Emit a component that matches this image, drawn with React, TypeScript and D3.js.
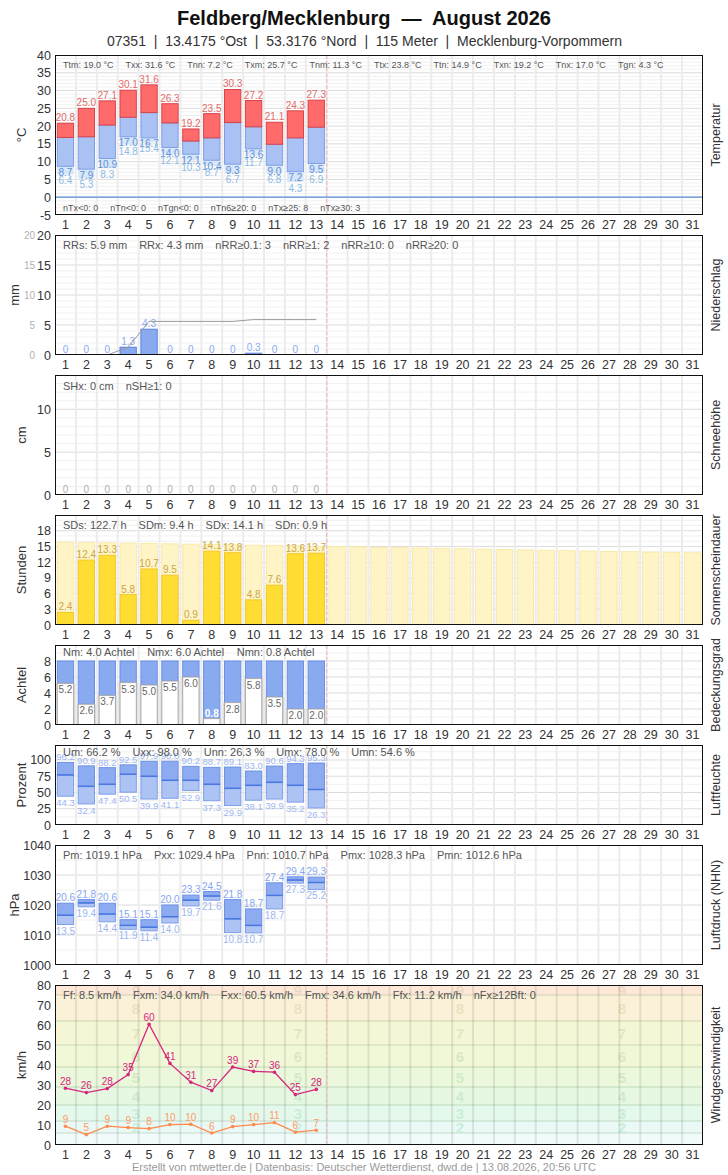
import React from 'react';
import * as d3 from 'd3';

// ---------- DATA ----------
const days = d3.range(1, 32);
const obsDays = d3.range(1, 14);

const title = 'Feldberg/Mecklenburg  —  August 2026';
const subtitle = '07351  |  13.4175 °Ost  |  53.3176 °Nord  |  115 Meter  |  Mecklenburg-Vorpommern';
const footer = 'Erstellt von mtwetter.de | Datenbasis: Deutscher Wetterdienst, dwd.de | 13.08.2026, 20:56 UTC';

const tMax = [20.8, 25.0, 27.1, 30.1, 31.6, 26.3, 19.2, 23.5, 30.3, 27.2, 21.1, 24.3, 27.3];
const tMean = [16.8, 17.0, 20.3, 22.5, 23.8, 20.9, 15.8, 16.7, 21.0, 19.8, 14.9, 16.7, 19.7];
const tMin = [8.7, 7.9, 10.9, 17.0, 16.7, 14.0, 12.1, 10.4, 9.3, 13.6, 9.0, 7.2, 9.5];
const tGround = [6.4, 5.3, 8.3, 14.8, 15.4, 12.1, 10.3, 8.7, 6.7, 11.7, 6.8, 4.3, 6.9];

const precip = [0, 0, 0, 1.3, 4.3, 0, 0, 0, 0, 0.3, 0, 0, 0];
const snow = [0, 0, 0, 0, 0, 0, 0, 0, 0, 0, 0, 0, 0];

const sunshine = [2.4, 12.4, 13.3, 5.8, 10.7, 9.5, 0.9, 14.1, 13.8, 4.8, 7.6, 13.6, 13.7];
const dayLength = [15.8, 15.75, 15.7, 15.62, 15.56, 15.5, 15.42, 15.36, 15.3, 15.22, 15.16, 15.1, 15.02, 14.96, 14.9,
  14.82, 14.76, 14.7, 14.62, 14.56, 14.46, 14.4, 14.34, 14.26, 14.2, 14.12, 14.05, 14.0, 13.92, 13.86, 13.78];

const cloud = [5.2, 2.6, 3.7, 5.3, 5.0, 5.5, 6.0, 0.8, 2.8, 5.8, 3.5, 2.0, 2.0];

const humMax = [96.2, 90.9, 88.2, 92.5, 97.9, 98.0, 90.2, 88.7, 89.1, 83.0, 90.6, 94.3, 95.3];
const humMean = [77.0, 59.5, 62.6, 78.0, 74.9, 68.7, 68.7, 62.6, 56.4, 61.0, 65.6, 61.0, 54.6];
const humMin = [44.3, 32.4, 47.4, 50.5, 39.9, 41.1, 52.9, 37.3, 29.9, 38.1, 39.9, 35.2, 26.3];

const presMax = [1020.6, 1021.8, 1020.6, 1015.1, 1015.1, 1020.0, 1023.3, 1024.5, 1021.8, 1018.7, 1027.4, 1029.4, 1029.3];
const presMean = [1016.6, 1020.7, 1017.0, 1013.2, 1012.6, 1016.1, 1021.6, 1023.0, 1015.4, 1013.2, 1023.2, 1028.3, 1027.5];
const presMin = [1013.5, 1019.4, 1014.4, 1011.9, 1011.4, 1014.0, 1019.7, 1021.6, 1010.8, 1010.7, 1018.7, 1027.3, 1025.2];

const windGust = [28.4, 26.2, 28.2, 35.2, 60.4, 40.8, 31.4, 27.2, 39.0, 36.8, 36.4, 25.2, 27.8];
const windMean = [9.4, 5.2, 9.4, 8.7, 8.2, 10.2, 10.4, 6.0, 9.2, 10.2, 11.2, 6.4, 7.4];

const bftLower = [0, 1, 6, 12, 20, 29, 39, 50, 62, 75, 89];
const bftDigits = [2, 3, 4, 5, 6, 7, 8, 9];

const statsT1 = ['Ttm: 19.0 °C', 'Txx: 31.6 °C', 'Tnn: 7.2 °C', 'Txm: 25.7 °C', 'Tnm: 11.3 °C', 'Ttx: 23.8 °C', 'Ttn: 14.9 °C', 'Txn: 19.2 °C', 'Tnx: 17.0 °C', 'Tgn: 4.3 °C'];
const statsT2 = ['nTx<0: 0', 'nTn<0: 0', 'nTgn<0: 0', 'nTn6≥20: 0', 'nTx≥25: 8', 'nTx≥30: 3'];
const statsRR = ['RRs: 5.9 mm', 'RRx: 4.3 mm', 'nRR≥0.1: 3', 'nRR≥1: 2', 'nRR≥10: 0', 'nRR≥20: 0'];
const statsSH = ['SHx: 0 cm', 'nSH≥1: 0'];
const statsSD = ['SDs: 122.7 h', 'SDm: 9.4 h', 'SDx: 14.1 h', 'SDn: 0.9 h'];
const statsN = ['Nm: 4.0 Achtel', 'Nmx: 6.0 Achtel', 'Nmn: 0.8 Achtel'];
const statsU = ['Um: 66.2 %', 'Uxx: 98.0 %', 'Unn: 26.3 %', 'Umx: 78.0 %', 'Umn: 54.6 %'];
const statsP = ['Pm: 1019.1 hPa', 'Pxx: 1029.4 hPa', 'Pnn: 1010.7 hPa', 'Pmx: 1028.3 hPa', 'Pmn: 1012.6 hPa'];
const statsF = ['Ff: 8.5 km/h', 'Fxm: 34.0 km/h', 'Fxx: 60.5 km/h', 'Fmx: 34.6 km/h', 'Ffx: 11.2 km/h', 'nFx≥12Bft: 0'];

// ---------- LAYOUT ----------
const W = 728, H = 1175;
const L = 55, R = 703;
const FONT = "'Liberation Sans', Arial, Helvetica, sans-serif";

let _ctx: any = null;
function textW(t: string, size: number) {
  if (!_ctx) _ctx = document.createElement('canvas').getContext('2d');
  _ctx.font = `${size}px ${FONT}`;
  return _ctx.measureText(t).width;
}

function Stats({ items, y, size, gap }: { items: string[]; y: number; size: number; gap: number }) {
  let x = L + 8;
  return (
    <g>
      {items.map((t, i) => {
        const el = <text key={i} x={x} y={y} fontSize={size} fill="#555" style={{ whiteSpace: 'pre' }}>{t}</text>;
        x += textW(t, size) + gap;
        return el;
      })}
    </g>
  );
}

type PCfg = {
  key: string; top: number; bottom: number; domain: [number, number]; ticks: number[]; minor: number;
  left: string; right: string; leftX?: number; hGrid?: boolean;
};

const xb = d3.scaleBand<number>().domain(days).range([L, R]);
const bw = xb.bandwidth();
const cx = (d: number) => (xb(d) as number) + bw / 2;
const barW = bw * 0.78;
const bx = (d: number) => cx(d) - barW / 2;

function Panel({ cfg, children }: { cfg: PCfg; children: (y: d3.ScaleLinear<number, number>) => React.ReactNode }) {
  const y = d3.scaleLinear().domain(cfg.domain).range([cfg.bottom, cfg.top]);
  const [d0, d1] = cfg.domain;
  const minorVals = cfg.hGrid === false ? [] : d3.range(d0, d1 + 1e-9, cfg.minor).filter(v => !cfg.ticks.some(t => Math.abs(t - v) < 1e-6));
  const mid = (cfg.top + cfg.bottom) / 2;
  const clipId = 'clip-' + cfg.key;
  return (
    <g>
      <clipPath id={clipId}><rect x={L} y={cfg.top} width={R - L} height={cfg.bottom - cfg.top} /></clipPath>
      <g clipPath={`url(#${clipId})`}>
        {minorVals.map(v => <line key={'m' + v} x1={L} x2={R} y1={y(v)} y2={y(v)} stroke="#f1f1f1" strokeWidth={1} />)}
        {cfg.hGrid === false ? null : cfg.ticks.map(v => <line key={'M' + v} x1={L} x2={R} y1={y(v)} y2={y(v)} stroke="#dcdcdc" strokeWidth={1} />)}
        {children(y)}
      </g>
      <rect x={L + 0.5} y={cfg.top + 0.5} width={R - L - 1} height={cfg.bottom - cfg.top - 1} fill="none" stroke="#111" strokeWidth={1} />
      {cfg.ticks.map(v => (
        <text key={'t' + v} x={51} y={y(v) + 4.5} textAnchor="end" fontSize={12.5} fill="#333">{v}</text>
      ))}
      {days.map(d => (
        <text key={'x' + d} x={cx(d)} y={cfg.bottom + 14} textAnchor="middle" fontSize={12.5} fill="#333">{d}</text>
      ))}
      <text transform={`translate(${cfg.leftX ?? 22},${mid}) rotate(-90)`} textAnchor="middle" dy={4} fontSize={13} fill="#333">{cfg.left}</text>
      <text transform={`translate(${716},${mid}) rotate(-90)`} textAnchor="middle" dy={4} fontSize={12.5} fill="#333">{cfg.right}</text>
    </g>
  );
}

function VGrid({ top, bottom, dark }: { top: number; bottom: number; dark?: boolean }) {
  return (
    <g>
      {days.slice(1).map(d => (
        <line key={d} x1={xb(d)} x2={xb(d)} y1={top} y2={bottom} stroke={dark ? 'rgba(0,0,0,0.09)' : '#ececec'} strokeWidth={2} />
      ))}
      <line x1={xb(14)} x2={xb(14)} y1={top} y2={bottom} stroke="#f0b4b4" strokeWidth={1} strokeDasharray="4,2" />
    </g>
  );
}

const cfgT: PCfg = { key: 'T', top: 55, bottom: 215, domain: [-5, 40], ticks: d3.range(-5, 41, 5), minor: 1, left: '°C', right: 'Temperatur' };
const cfgRR: PCfg = { key: 'RR', top: 235, bottom: 355, domain: [0, 20], ticks: d3.range(0, 21, 5), minor: 1, left: 'mm', right: 'Niederschlag', leftX: 15 };
const cfgSH: PCfg = { key: 'SH', top: 375, bottom: 495, domain: [0, 14], ticks: [0, 5, 10], minor: 1, left: 'cm', right: 'Schneehöhe' };
const cfgSD: PCfg = { key: 'SD', top: 515, bottom: 625, domain: [0, 21], ticks: d3.range(0, 19, 3), minor: 1, left: 'Stunden', right: 'Sonnenscheindauer' };
const cfgN: PCfg = { key: 'N', top: 645, bottom: 725, domain: [0, 10], ticks: [0, 2, 4, 6, 8], minor: 1, left: 'Achtel', right: 'Bedeckungsgrad' };
const cfgU: PCfg = { key: 'U', top: 745, bottom: 825, domain: [0, 123], ticks: [0, 25, 50, 75, 100], minor: 12.5, left: 'Prozent', right: 'Luftfeuchte' };
const cfgP: PCfg = { key: 'P', top: 845, bottom: 965, domain: [1000, 1040], ticks: d3.range(1000, 1041, 10), minor: 5, left: 'hPa', right: 'Luftdruck (NHN)', leftX: 15 };
const cfgF: PCfg = { key: 'F', top: 985, bottom: 1145, domain: [0, 80], ticks: d3.range(0, 81, 10), minor: 10, left: 'km/h', right: 'Windgeschwindigkeit', hGrid: false };

const bftBg = ['#f2fbfb', '#f2fbfb', '#eaf9f5', '#e5f8ec', '#e7f8e2', '#ecf8dc', '#f1f8d8', '#f5f6d6', '#faf1d8', '#fde8d8'];
const bftDigitColor = ['#c9eedc', '#c9eed6', '#cdeccc', '#d3eac4', '#dbe9c2', '#e3e7bf', '#ebe2c0', '#efd9c4'];

export default function App() {
  const cum = d3.cumsum(precip);
  return (
    <svg width={W} height={H} viewBox={`0 0 ${W} ${H}`} style={{ position: 'absolute', left: 0, top: 0, background: '#fff' }} fontFamily={FONT}>
      <rect x={0} y={0} width={W} height={H} fill="#fff" />
      <text x={364} y={25} textAnchor="middle" fontSize={21} fontWeight="bold" fill="#111" textLength={374} lengthAdjust="spacingAndGlyphs" style={{ whiteSpace: 'pre' }}>{title}</text>
      <text x={364.5} y={46} textAnchor="middle" fontSize={15} fill="#333" textLength={515} lengthAdjust="spacingAndGlyphs" style={{ whiteSpace: 'pre' }}>{subtitle}</text>

      {/* Temperature */}
      <Panel cfg={cfgT}>{y => (
        <g>
          <VGrid top={cfgT.top} bottom={cfgT.bottom} />
          <line x1={L} x2={R} y1={y(0)} y2={y(0)} stroke="#5b8fd6" strokeWidth={1.2} />
          {obsDays.map((d, i) => (
            <g key={d}>
              <rect x={bx(d)} y={y(tMin[i])} width={barW} height={y(tGround[i]) - y(tMin[i])} fill="#d7e6f8" />
              <rect x={bx(d)} y={y(tMean[i])} width={barW} height={y(tMin[i]) - y(tMean[i])} fill="#aac1f3" stroke="#7d9ee8" strokeWidth={1} />
              <rect x={bx(d)} y={y(tMax[i])} width={barW} height={y(tMean[i]) - y(tMax[i])} fill="#ff6b6b" stroke="#d8434a" strokeWidth={1} />
              <text x={cx(d)} y={y(tMax[i]) - 2} textAnchor="middle" fontSize={10} fill="#e36a6a">{tMax[i].toFixed(1)}</text>
              <text x={cx(d)} y={y(tMin[i]) + 9.5} textAnchor="middle" fontSize={10} fill="#5d8fd9">{tMin[i].toFixed(1)}</text>
              <text x={cx(d)} y={y(tGround[i]) + 10} textAnchor="middle" fontSize={10} fill="#8cbbe3">{tGround[i].toFixed(1)}</text>
            </g>
          ))}
          <Stats items={statsT1} y={68} size={9} gap={12} />
          <Stats items={statsT2} y={211} size={9} gap={12} />
        </g>
      )}</Panel>

      {/* Precipitation */}
      <Panel cfg={cfgRR}>{y => (
        <g>
          <VGrid top={cfgRR.top} bottom={cfgRR.bottom} />
          {obsDays.map((d, i) => (
            <g key={d}>
              {precip[i] > 0 && <rect x={bx(d)} y={y(precip[i])} width={barW} height={y(0) - y(precip[i])} fill="#8aaaf0" stroke="#5a82e2" strokeWidth={1} />}
              <text x={cx(d)} y={y(precip[i]) - 2} textAnchor="middle" fontSize={10} fill="#8aa9f2">{precip[i] === 0 ? '0' : precip[i].toFixed(1)}</text>
            </g>
          ))}
          <path d={d3.line<[number, number]>().x(p => p[0]).y(p => y(p[1]))([[L, 0], ...obsDays.map((d, i) => [cx(d), cum[i]] as [number, number])]) || ''} fill="none" stroke="#999" strokeWidth={1} />
          <Stats items={statsRR} y={249} size={11} gap={12} />
        </g>
      )}</Panel>
      {cfgRR.ticks.map(v => (
        <text key={'rr2' + v} x={35} y={d3.scaleLinear().domain(cfgRR.domain).range([cfgRR.bottom, cfgRR.top])(v) + 4} textAnchor="end" fontSize={10} fill="#b0b0b0">{v}</text>
      ))}

      {/* Snow */}
      <Panel cfg={cfgSH}>{y => (
        <g>
          <VGrid top={cfgSH.top} bottom={cfgSH.bottom} />
          {obsDays.map((d, i) => (
            <text key={d} x={cx(d)} y={y(snow[i]) - 2} textAnchor="middle" fontSize={10} fill="#b0b0b0">{snow[i]}</text>
          ))}
          <Stats items={statsSH} y={390} size={11} gap={12} />
        </g>
      )}</Panel>

      {/* Sunshine */}
      <Panel cfg={cfgSD}>{y => (
        <g>
          <VGrid top={cfgSD.top} bottom={cfgSD.bottom} />
          {days.map((d, i) => (
            <rect key={'p' + d} x={bx(d)} y={y(dayLength[i])} width={barW} height={y(0) - y(dayLength[i])} fill="#fff4c6" stroke="#fbe9a6" strokeWidth={1} />
          ))}
          {obsDays.map((d, i) => (
            <g key={d}>
              <rect x={bx(d)} y={y(sunshine[i])} width={barW} height={y(0) - y(sunshine[i])} fill="#ffdd33" stroke="#f3c829" strokeWidth={1} />
              <text x={cx(d)} y={y(sunshine[i]) - 2} textAnchor="middle" fontSize={10} fill="#c9a64b">{sunshine[i].toFixed(1)}</text>
            </g>
          ))}
          <Stats items={statsSD} y={529} size={11} gap={12} />
        </g>
      )}</Panel>

      {/* Cloud cover */}
      <Panel cfg={cfgN}>{y => (
        <g>
          <VGrid top={cfgN.top} bottom={cfgN.bottom} />
          {obsDays.map((d, i) => {
            const low = cloud[i] < 1.5;
            return (
              <g key={d}>
                <rect x={bx(d) - 1.5} y={y(cloud[i])} width={barW + 3} height={y(0) - y(cloud[i])} fill="#dcdcdc" />
                <rect x={bx(d)} y={y(8)} width={barW} height={y(cloud[i]) - y(8)} fill="#8aaaf0" stroke="#6a8ee8" strokeWidth={1} />
                <rect x={bx(d)} y={y(cloud[i])} width={barW} height={y(0) - y(cloud[i])} fill="#fff" stroke="#aaa" strokeWidth={1} />
                <text x={cx(d)} y={low ? y(cloud[i]) - 2 : y(cloud[i]) + 10} textAnchor="middle" fontSize={10} fontWeight={low ? 'bold' : 'normal'} fill={low ? '#fff' : '#666'}>{cloud[i].toFixed(1)}</text>
              </g>
            );
          })}
          <Stats items={statsN} y={656} size={11} gap={12} />
        </g>
      )}</Panel>

      {/* Humidity */}
      <Panel cfg={cfgU}>{y => (
        <g>
          <VGrid top={cfgU.top} bottom={cfgU.bottom} />
          {obsDays.map((d, i) => (
            <g key={d}>
              <rect x={bx(d)} y={y(humMean[i])} width={barW} height={y(humMin[i]) - y(humMean[i])} fill="#adc3f4" stroke="#7d9ee8" strokeWidth={1} />
              <rect x={bx(d)} y={y(humMax[i])} width={barW} height={y(humMean[i]) - y(humMax[i])} fill="#8cabf0" stroke="#6d92e6" strokeWidth={1} />
              <line x1={bx(d)} x2={bx(d) + barW} y1={y(humMean[i])} y2={y(humMean[i])} stroke="#4a78e0" strokeWidth={1.5} />
              <text x={cx(d)} y={y(humMax[i]) - 2} textAnchor="middle" fontSize={9.5} fill="#9db6f2">{humMax[i].toFixed(1)}</text>
              <text x={cx(d)} y={y(humMin[i]) + 10} textAnchor="middle" fontSize={9.5} fill="#9db6f2">{humMin[i].toFixed(1)}</text>
            </g>
          ))}
          <Stats items={statsU} y={756} size={11} gap={12} />
        </g>
      )}</Panel>

      {/* Pressure */}
      <Panel cfg={cfgP}>{y => (
        <g>
          <VGrid top={cfgP.top} bottom={cfgP.bottom} />
          {obsDays.map((d, i) => (
            <g key={d}>
              <rect x={bx(d)} y={y(presMean[i])} width={barW} height={y(presMin[i]) - y(presMean[i])} fill="#adc3f4" stroke="#7d9ee8" strokeWidth={1} />
              <rect x={bx(d)} y={y(presMax[i])} width={barW} height={y(presMean[i]) - y(presMax[i])} fill="#8cabf0" stroke="#6d92e6" strokeWidth={1} />
              <line x1={bx(d)} x2={bx(d) + barW} y1={y(presMean[i])} y2={y(presMean[i])} stroke="#4a78e0" strokeWidth={1.5} />
              <text x={cx(d)} y={y(presMax[i]) - 2} textAnchor="middle" fontSize={10} fill="#86a6ef">{(presMax[i] - 1000).toFixed(1)}</text>
              <text x={cx(d)} y={y(presMin[i]) + 10} textAnchor="middle" fontSize={10} fill="#9db6f2">{(presMin[i] - 1000).toFixed(1)}</text>
            </g>
          ))}
          <Stats items={statsP} y={859} size={11} gap={12} />
        </g>
      )}</Panel>

      {/* Wind */}
      <Panel cfg={cfgF}>{y => {
        const top = cfgF.domain[1];
        return (
          <g>
            {bftBg.map((c, i) => (
              <rect key={'bg' + i} x={L} y={y(Math.min(bftLower[i + 1], 100))} width={R - L} height={y(bftLower[i]) - y(bftLower[i + 1])} fill={c} />
            ))}
            {bftLower.slice(2, 10).map(v => (
              <line key={'bl' + v} x1={L} x2={R} y1={y(v)} y2={y(v)} stroke="rgba(90,140,90,0.28)" strokeWidth={1} />
            ))}
            {[1, 3, 5, 7].map(k => L + (R - L) * k / 8).map(px => (
              <g key={'dg' + px}>
                {bftDigits.map((b, j) => {
                  const mid = (bftLower[b] + Math.min(bftLower[b + 1], top)) / 2;
                  return <text key={b} x={px} y={y(mid) + 5.5} textAnchor="middle" fontSize={15} fontWeight="bold" fill={bftDigitColor[j]}>{b}</text>;
                })}
              </g>
            ))}
            <VGrid top={cfgF.top} bottom={cfgF.bottom} dark />
            <path d={d3.line<number>().x((_, i) => cx(obsDays[i])).y(v => y(v))(windMean) || ''} fill="none" stroke="#ff8a4c" strokeWidth={1.3} />
            <path d={d3.line<number>().x((_, i) => cx(obsDays[i])).y(v => y(v))(windGust) || ''} fill="none" stroke="#d6267e" strokeWidth={1.3} />
            {obsDays.map((d, i) => (
              <g key={d}>
                <circle cx={cx(d)} cy={y(windMean[i])} r={1.8} fill="#ff8a4c" />
                <circle cx={cx(d)} cy={y(windGust[i])} r={1.8} fill="#d6267e" />
                <text x={cx(d)} y={y(windMean[i]) - 3.5} textAnchor="middle" fontSize={10} fill="#ff9a66">{Math.round(windMean[i])}</text>
                <text x={cx(d)} y={y(windGust[i]) - 3.5} textAnchor="middle" fontSize={10} fill="#d6267e">{Math.round(windGust[i])}</text>
              </g>
            ))}
            <Stats items={statsF} y={999} size={11} gap={12} />
          </g>
        );
      }}</Panel>

      <text x={364} y={1171} textAnchor="middle" fontSize={11} fill="#9a9a9a">{footer}</text>
    </svg>
  );
}
